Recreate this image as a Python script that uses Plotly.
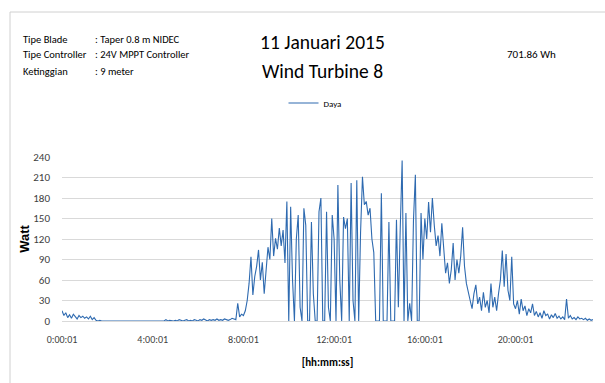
import plotly.graph_objects as go

# ---- data (5-minute samples) ----
start_date = "2015-01-11"
daya_values = [
    # 00h
    15, 8, 12, 5, 9, 4, 10, 6, 3, 8, 5, 7,
    # 01h
    4, 6, 3, 7, 2, 5, 1, 0, 1, 0, 0, 0,
    # 02h
    0, 0, 0, 0, 0, 0, 0, 0, 0, 0, 0, 0,
    # 03h
    0, 0, 0, 0, 0, 0, 0, 0, 0, 0, 0, 0,
    # 04h
    0, 0, 1, 0, 0, 1, 0, 2, 0, 1, 0, 0,
    # 05h
    1, 0, 2, 1, 0, 1, 2, 0, 1, 0, 2, 1,
    # 06h
    0, 2, 1, 3, 1, 0, 2, 1, 2, 1, 3, 1,
    # 07h
    2, 1, 3, 2, 1, 2, 4, 3, 2, 26, 6, 10,
    # 08h
    8, 15, 30, 55, 94, 38, 65, 80, 104, 60, 86, 40,
    # 09h
    75, 108, 90, 150, 95, 121, 105, 136, 110, 133, 85, 175,
    # 10h
    0, 167, 60, 0, 120, 155, 20, 0, 165, 140, 0, 0,
    # 11h
    145, 40, 0, 0, 160, 180, 0, 0, 160, 20, 0, 155,
    # 12h
    120, 0, 199, 60, 0, 152, 135, 150, 0, 202, 30, 0,
    # 13h
    206, 0, 130, 211, 170, 175, 155, 165, 120, 100, 0, 0,
    # 14h
    0, 187, 0, 0, 0, 145, 0, 0, 0, 148, 20, 136,
    # 15h
    235, 0, 158, 0, 26, 0, 148, 214, 0, 0, 158, 90,
    # 16h
    150, 120, 174, 130, 180, 140, 110, 125, 95, 143, 100, 70,
    # 17h
    85, 55, 75, 114, 60, 90, 70, 95, 137, 80, 55, 40,
    # 18h
    30, 18, 40, 53, 25, 35, 15, 42, 20, 30, 12, 55,
    # 19h
    20, 35, 15, 40, 60, 103, 50, 98, 45, 30, 94, 25,
    # 20h
    18, 30, 10, 32, 15, 22, 8, 18, 12, 25, 8, 14,
    # 21h
    6, 12, 4, 15, 8, 10, 3, 9, 5, 11, 4, 7,
    # 22h
    3, 6, 2, 32, 4, 8, 3, 5, 2, 6, 3, 4,
    # 23h
    2, 4, 1, 3, 1, 2,
]
time_labels = [f"{start_date} {i // 12:02d}:{(i % 12) * 5:02d}:01" for i in range(len(daya_values))]

x_tick_vals = [f"{start_date} 00:00:01", f"{start_date} 04:00:01", f"{start_date} 08:00:01",
               f"{start_date} 12:00:01", f"{start_date} 16:00:01", f"{start_date} 20:00:01"]
x_tick_text = ["0:00:01", "4:00:01", "8:00:01", "12:00:01", "16:00:01", "20:00:01"]
y_tick_vals = [0, 30, 60, 90, 120, 150, 180, 210, 240]

info_labels = ["Tipe Blade", "Tipe Controller", "Ketinggian"]
info_values = [": Taper 0.8 m NIDEC", ": 24V MPPT Controller", ": 9 meter"]
title_lines = ["11 Januari 2015", "Wind Turbine 8"]
energy_text = "701.86 Wh"

FONT = "Calibri, Carlito, 'Liberation Sans Narrow', 'DejaVu Sans Condensed', 'Open Sans', sans-serif"

fig = go.Figure()
fig.add_trace(go.Scatter(
    x=time_labels, y=daya_values, mode="lines", name="Daya",
    line=dict(color="#2E6AB0", width=1.1),
))

W, H = 605, 383
L, R, T, B = 62, 12, 157, 62
pw, ph = W - L - R, H - T - B

def px(x):
    return (x - L) / pw

def py(y):
    return (H - B - y) / ph

annotations = []
for i, (lab, val) in enumerate(zip(info_labels, info_values)):
    yy = 39 + i * 16
    annotations.append(dict(x=px(21), y=py(yy), xref="paper", yref="paper", text=lab,
                            showarrow=False, xanchor="left", yanchor="middle",
                            font=dict(family=FONT, size=10.5, color="#000")))
    annotations.append(dict(x=px(93), y=py(yy), xref="paper", yref="paper", text=val,
                            showarrow=False, xanchor="left", yanchor="middle",
                            font=dict(family=FONT, size=10.5, color="#000")))
for i, t in enumerate(title_lines):
    annotations.append(dict(x=px(322), y=py(42 + i * 29), xref="paper", yref="paper", text=t,
                            showarrow=False, xanchor="center", yanchor="middle",
                            font=dict(family=FONT, size=19.5, color="#000")))
annotations.append(dict(x=px(531), y=py(55), xref="paper", yref="paper", text=energy_text,
                        showarrow=False, xanchor="center", yanchor="middle",
                        font=dict(family=FONT, size=11, color="#000")))

shapes = [
    dict(type="line", xref="paper", yref="paper", x0=px(10), x1=px(606), y0=py(12), y1=py(12),
         line=dict(color="#d0d0d0", width=1)),
    dict(type="line", xref="paper", yref="paper", x0=px(10), x1=px(10), y0=py(12), y1=py(384),
         line=dict(color="#d0d0d0", width=1)),
]

fig.update_layout(
    width=W, height=H,
    margin=dict(l=L, r=R, t=T, b=B),
    paper_bgcolor="white", plot_bgcolor="white",
    font=dict(family=FONT, size=11, color="#000"),
    showlegend=True,
    legend=dict(orientation="h", x=px(315), xanchor="center", y=py(103), yanchor="middle",
                font=dict(family=FONT, size=9, color="#000"), itemwidth=30,
                bgcolor="rgba(0,0,0,0)"),
    annotations=annotations,
    shapes=shapes,
)
fig.update_xaxes(
    type="date",
    range=[time_labels[0], time_labels[-1]],
    tickvals=x_tick_vals, ticktext=x_tick_text,
    showgrid=False, showline=True, linecolor="#d9d9d9", linewidth=1,
    ticks="", tickfont=dict(family=FONT, size=10, color="#404040"),
    ticklabelstandoff=9,
    title=dict(text="<b>[hh:mm:ss]</b>", font=dict(family=FONT, size=11, color="#000"), standoff=13),
)
fig.update_yaxes(
    range=[0, 240], tickvals=y_tick_vals,
    showgrid=True, gridcolor="#d9d9d9", gridwidth=1, zeroline=False,
    ticks="", tickfont=dict(family=FONT, size=11, color="#404040"),
    ticklabelstandoff=11,
    title=dict(text="<b>Watt</b>", font=dict(family="Liberation Sans, Arial, sans-serif", size=13, color="#000"), standoff=0),
)

fig.write_html("out.html",
               config={"displayModeBar": False},
               post_script="document.body.style.margin='0';document.body.style.overflow='hidden';")
